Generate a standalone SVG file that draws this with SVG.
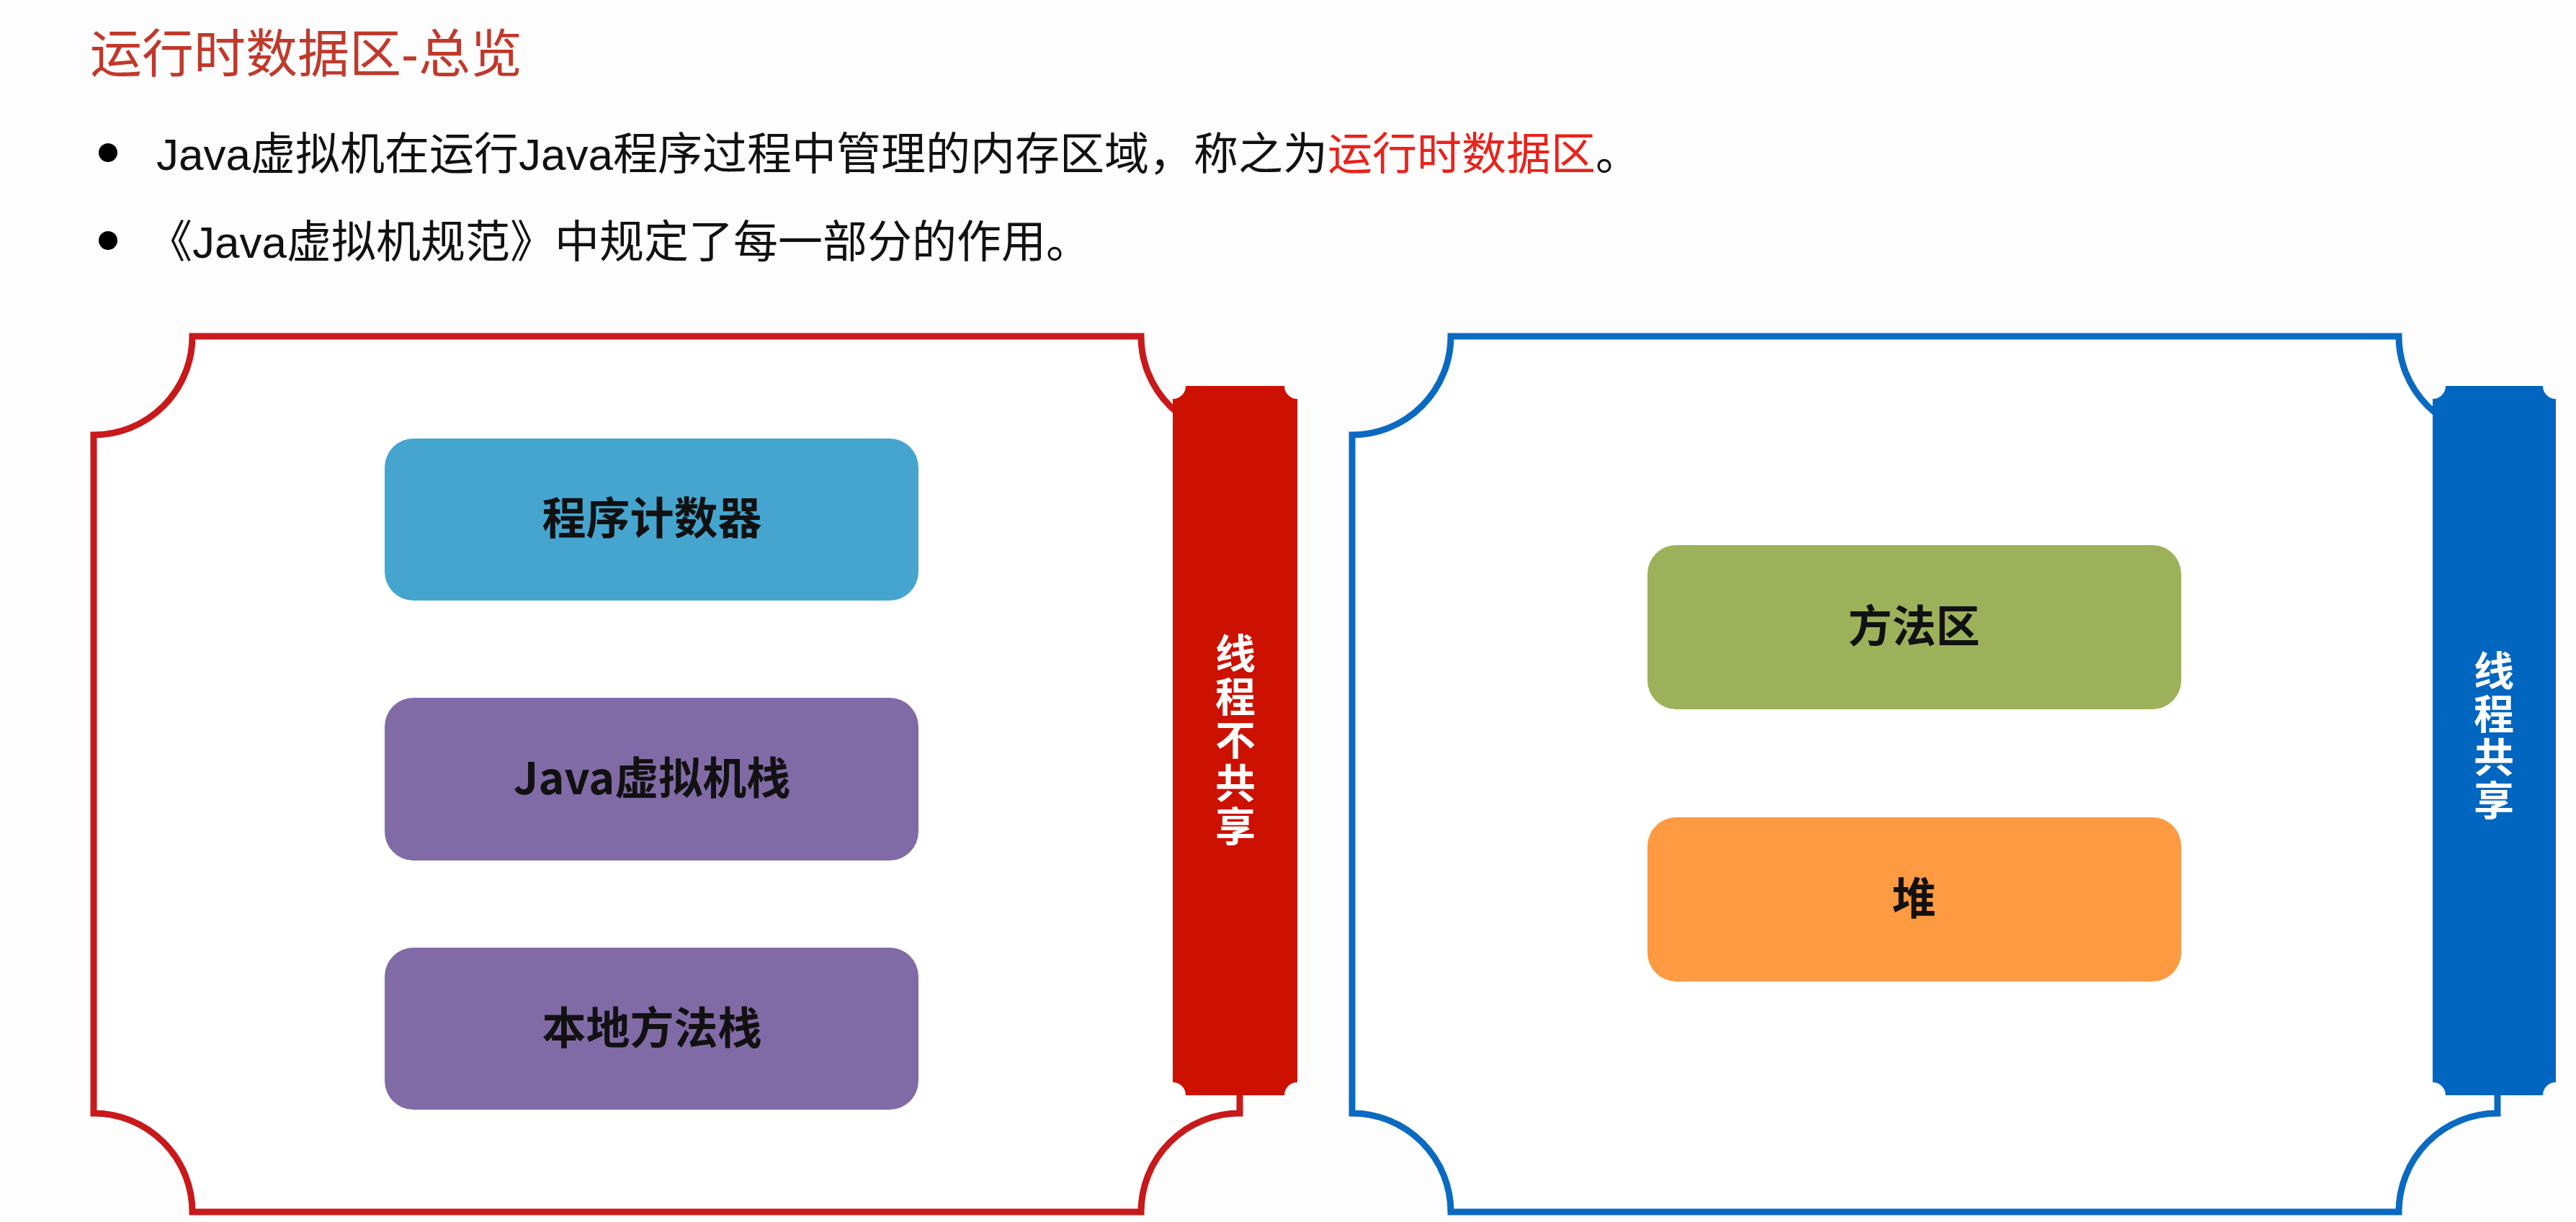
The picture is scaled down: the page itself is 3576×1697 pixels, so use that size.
<svg xmlns="http://www.w3.org/2000/svg" width="3576" height="1697" viewBox="0 0 3576 1697">
<style>
.t{font-family:"Liberation Sans","Noto Sans CJK SC",sans-serif}
.b{font-family:"Noto Sans CJK SC","Liberation Sans",sans-serif;font-weight:bold;font-size:61px;text-anchor:middle;fill:#111}
.v{font-family:"Noto Sans CJK SC",sans-serif;font-weight:bold;font-size:56px;text-anchor:middle;fill:#fff}
</style>
<rect width="3576" height="1697" fill="#fdfdfd"/>
<text class="t" x="125" y="100" font-size="72" fill="#c0392b">运行时数据区-总览</text>
<circle cx="150" cy="212" r="13" fill="#000"/>
<text class="t" x="217" y="236" font-size="62" fill="#111">Java虚拟机在运行Java程序过程中管理的内存区域，称之为<tspan fill="#e8231c">运行时数据区</tspan>。</text>
<circle cx="150" cy="334" r="13" fill="#000"/>
<text class="t" x="205" y="358" font-size="62" fill="#111">《Java虚拟机规范》中规定了每一部分的作用。</text>
<g id="left">
<path d="M267,467 L1584,467 A137,137 0 0 0 1721,604 L1721,1546 A137,137 0 0 0 1584,1683 L267,1683 A137,137 0 0 0 130,1546 L130,604 A137,137 0 0 0 267,467 Z" fill="#fff" stroke="#c8191b" stroke-width="9"/>
</g>
<g id="bar-left">
<path d="M1646,536 L1783,536 A18,18 0 0 0 1801,554 L1801,1503 A18,18 0 0 0 1783,1521 L1646,1521 A18,18 0 0 0 1628,1503 L1628,554 A18,18 0 0 0 1646,536 Z" fill="#cc1100"/>
<text class="v" x="1715" y="928">线</text><text class="v" x="1715" y="988">程</text><text class="v" x="1715" y="1048">不</text><text class="v" x="1715" y="1108">共</text><text class="v" x="1715" y="1168">享</text>
</g>
<g id="pc"><rect x="534" y="609" width="741" height="225" rx="40" fill="#45a5cf"/><text class="b" x="905" y="742">程序计数器</text></g>
<g id="jvms"><rect x="534" y="969" width="741" height="226" rx="40" fill="#816ba6"/><text class="b" x="905" y="1103">Java虚拟机栈</text></g>
<g id="nms"><rect x="534" y="1316" width="741" height="225" rx="40" fill="#816ba6"/><text class="b" x="905" y="1450">本地方法栈</text></g>
<g id="right">
<path d="M2014,467 L3330,467 A137,137 0 0 0 3467,604 L3467,1546 A137,137 0 0 0 3330,1683 L2014,1683 A137,137 0 0 0 1877,1546 L1877,604 A137,137 0 0 0 2014,467 Z" fill="#fff" stroke="#0a6ac1" stroke-width="9"/>
</g>
<g id="bar-right">
<path d="M3395,536 L3530,536 A18,18 0 0 0 3548,554 L3548,1503 A18,18 0 0 0 3530,1521 L3395,1521 A18,18 0 0 0 3377,1503 L3377,554 A18,18 0 0 0 3395,536 Z" fill="#0066c0"/>
<text class="v" x="3462" y="952">线</text><text class="v" x="3462" y="1012">程</text><text class="v" x="3462" y="1072">共</text><text class="v" x="3462" y="1132">享</text>
</g>
<g id="method"><rect x="2287" y="757" width="741" height="228" rx="40" fill="#9db15a"/><text class="b" x="2657" y="892">方法区</text></g>
<g id="heap"><rect x="2287" y="1135" width="741" height="228" rx="40" fill="#fd9a42"/><text class="b" x="2657" y="1270">堆</text></g>
<g id="connectors"/>
</svg>
